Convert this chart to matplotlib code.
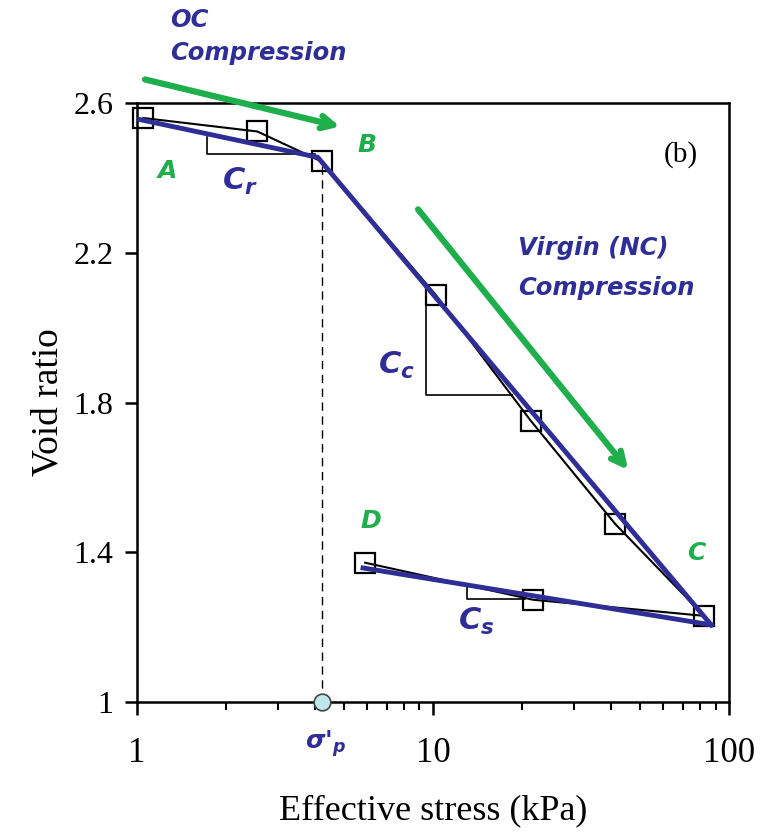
import matplotlib
matplotlib.use("Agg")
import matplotlib.pyplot as plt

plt.rcParams["mathtext.fontset"] = "custom"
plt.rcParams["mathtext.it"] = "DejaVu Sans:italic:bold"
plt.rcParams["mathtext.rm"] = "DejaVu Sans:bold"

# measured points (loading then unloading)
stress = [1.05, 2.55, 4.2, 10.2, 21.4, 41.2, 82.4, 21.8, 5.9]
void_ratio = [2.56, 2.524, 2.444, 2.088, 1.751, 1.476, 1.230, 1.273, 1.372]

# fitted blue lines
fit_load_x = [1.02, 4.08, 87.0]
fit_load_y = [2.556, 2.455, 1.206]
fit_unload_x = [5.8, 87.0]
fit_unload_y = [1.358, 1.206]

sigma_p = 4.2
e_p = 2.444

# slope triangles (x, y)
tri_cr_x = [1.72, 1.72, 4.0]
tri_cr_y = [2.508, 2.463, 2.463]
tri_cc_x = [9.5, 9.5, 18.5]
tri_cc_y = [2.075, 1.821, 1.821]
tri_cs_x = [13.0, 13.0, 20.5]
tri_cs_y = [1.310, 1.275, 1.275]

blue = "#2e2e96"
green = "#1fae4c"

fig = plt.figure(figsize=(7.63, 8.33), dpi=100)
ax = fig.add_axes([0.1796, 0.1573, 0.7759, 0.719])

ax.set_xscale("log")
ax.set_xlim(1, 100)
ax.set_ylim(1, 2.6)

ax.plot(tri_cr_x, tri_cr_y, color="black", lw=1.2)
ax.plot(tri_cc_x, tri_cc_y, color="black", lw=1.2)
ax.plot(tri_cs_x, tri_cs_y, color="black", lw=1.2)

ax.plot([sigma_p, sigma_p], [1.0, e_p], color="black", lw=1.0, ls=(0, (6, 4)))

ax.plot(stress, void_ratio, color="black", lw=1.5, marker="s", ms=15,
        mfc="none", mec="black", mew=1.6, zorder=3, clip_on=False)
ax.plot(fit_load_x, fit_load_y, color=blue, lw=3.5, zorder=4)
ax.plot(fit_unload_x, fit_unload_y, color=blue, lw=3.5, zorder=4)

ax.plot([sigma_p], [1.0], marker="o", ms=12, mfc="#bfe6e8", mec="#444444",
        mew=1.2, clip_on=False, zorder=5)

# arrows
arr = dict(arrowstyle="->,head_length=0.9,head_width=0.45", color=green,
           lw=4.5, shrinkA=0, shrinkB=0)
ax.annotate("", xy=(4.85, 2.537), xytext=(1.064, 2.663),
            arrowprops=arr, annotation_clip=False)
ax.annotate("", xy=(45.6, 1.620), xytext=(8.9, 2.316), arrowprops=arr)

lab = dict(fontweight="bold", fontstyle="italic", family="DejaVu Sans")
ax.text(1.178, 2.401, "A", color=green, fontsize=18, **lab)
ax.text(5.54, 2.468, "B", color=green, fontsize=18, **lab)
ax.text(72.1, 1.380, "C", color=green, fontsize=18, **lab)
ax.text(5.67, 1.465, "D", color=green, fontsize=18, **lab)

ax.text(1.29, 2.802, "OC", color=blue, fontsize=17.5, clip_on=False, **lab)
ax.text(1.29, 2.714, "Compression", color=blue, fontsize=17.5,
        clip_on=False, **lab)
ax.text(19.4, 2.195, "Virgin (NC)", color=blue, fontsize=17.5, **lab)
ax.text(19.4, 2.086, "Compression", color=blue, fontsize=17.5, **lab)

# slope labels
coef_x = [1.937, 6.52, 12.14]
coef_y = [2.369, 1.877, 1.193]
coef_sub = ["r", "c", "s"]
for cx, cy, sub in zip(coef_x, coef_y, coef_sub):
    ax.text(cx, cy, "C$_%s$" % sub, color=blue, fontsize=22, **lab)

ax.text(68.9, 2.4626, "(b)", fontsize=21, family="Liberation Serif",
        ha="center", va="center")

ax.annotate("\u03c3'$_p$", xy=(sigma_p, 1.0), xytext=(3, -30),
            textcoords="offset points", ha="center", va="center",
            color=blue, fontsize=18, annotation_clip=False, **lab)

ax.set_xticks([1, 10, 100])
ax.set_xticklabels(["1", "10", "100"])
ax.set_yticks([1, 1.4, 1.8, 2.2, 2.6])
ax.set_yticklabels(["1", "1.4", "1.8", "2.2", "2.6"])
for t in ax.get_xticklabels():
    t.set_family("Liberation Serif")
    t.set_fontsize(25)
for t in ax.get_yticklabels():
    t.set_family("Liberation Serif")
    t.set_fontsize(23)
ax.tick_params(axis="both", which="major", direction="out", length=9,
               width=1.8)
ax.tick_params(axis="x", which="major", pad=16)
ax.tick_params(axis="y", which="major", pad=8)
ax.tick_params(axis="x", which="minor", direction="out", length=6, width=1.5,
               labelbottom=False)

ax.set_xlabel("Effective stress (kPa)", family="Liberation Serif",
              fontsize=26, labelpad=18)
ax.set_ylabel("Void ratio", family="Liberation Serif", fontsize=27,
              labelpad=6)

for s in ax.spines.values():
    s.set_linewidth(1.8)

fig.savefig("out.png", dpi=100)
